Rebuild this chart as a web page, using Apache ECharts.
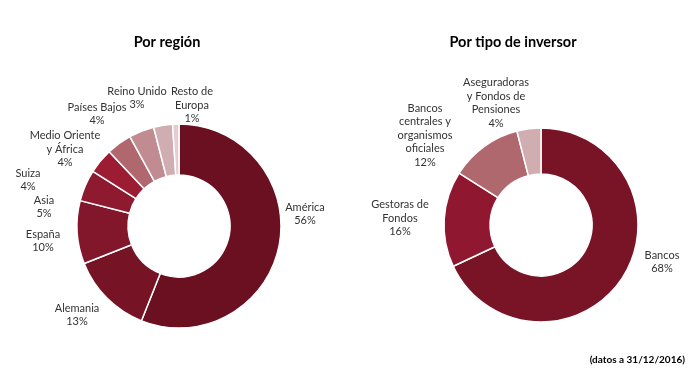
<!DOCTYPE html>
<html>
<head>
<meta charset="utf-8">
<script src="https://cdn.jsdelivr.net/npm/echarts@6/dist/echarts.min.js"></script>
<style>
html,body{margin:0;padding:0;background:#fff;}
#c{width:700px;height:373px;}
</style>
</head>
<body>
<div id="c"></div>
<script>
const regionNames = ['América', 'Alemania', 'España', 'Asia', 'Suiza', 'Medio Oriente\ny África', 'Países Bajos', 'Reino Unido', 'Resto de\nEuropa'];
const regionValues = [56, 13, 10, 5, 4, 4, 4, 3, 1];
const regionColors = ['#6a1020', '#761425', '#82172b', '#8d1a2f', '#9c1c34', '#b0676e', '#c08c91', '#cfadb1', '#e3cdd0'];

const investorNames = ['Bancos', 'Gestoras de\nFondos', 'Bancos\ncentrales y\norganismos\noficiales', 'Aseguradoras\ny Fondos de\nPensiones'];
const investorValues = [68, 16, 12, 4];
const investorColors = ['#781426', '#8f1830', '#b0686f', '#cfadb1'];

const titles = ['Por región', 'Por tipo de inversor'];
const footnote = '(datos a 31/12/2016)';

// label anchor points (centre of each text block), as placed in the reference
const regionLabelAt = [[305, 214], [77, 315], [43, 241], [44, 207], [28, 180], [65, 149], [97, 114], [137, 98], [192, 105]];
const investorLabelAt = [[662, 262], [400, 218], [425, 135], [496, 103]];

const font = 'Lato, "Open Sans", sans-serif';

function build(names, values, colors) {
  return names.map((n, i) => ({ name: n, value: values[i], itemStyle: { color: colors[i] } }));
}

const labelAt = [regionLabelAt, investorLabelAt];

const chart = echarts.init(document.getElementById('c'), null, { renderer: 'canvas' });
const labelStyle = { show: true, position: 'outside', formatter: '{b}\n{c}%', fontFamily: font, fontSize: 11, color: '#333', lineHeight: 13.5, overflow: 'none' };
chart.setOption({
  animation: false,
  backgroundColor: '#fff',
  title: [
    { text: titles[0], left: 162, top: 30, textAlign: 'center', textStyle: { fontFamily: font, fontSize: 14.5, fontWeight: 'bold', color: '#000' } },
    { text: titles[1], left: 508, top: 30, textAlign: 'center', textStyle: { fontFamily: font, fontSize: 14.5, fontWeight: 'bold', color: '#000' } },
    { text: footnote, right: 10, top: 350, textStyle: { fontFamily: font, fontSize: 10, fontWeight: 'bold', color: '#000' } }
  ],
  series: [
    {
      type: 'pie',
      center: [179, 226],
      radius: [51, 102],
      startAngle: 90,
      clockwise: true,
      data: build(regionNames, regionValues, regionColors),
      itemStyle: { borderColor: '#fff', borderWidth: 1.5 },
      label: labelStyle,
      labelLine: { show: false },
      labelLayout: function (p) {
        const pt = labelAt[p.seriesIndex][p.dataIndex];
        return { x: pt[0], y: pt[1], align: 'center', verticalAlign: 'middle' };
      },
      emphasis: { disabled: true }
    },
    {
      type: 'pie',
      center: [541, 225],
      radius: [51, 97],
      startAngle: 90,
      clockwise: true,
      data: build(investorNames, investorValues, investorColors),
      itemStyle: { borderColor: '#fff', borderWidth: 1.5 },
      label: labelStyle,
      labelLine: { show: false },
      labelLayout: function (p) {
        const pt = labelAt[p.seriesIndex][p.dataIndex];
        return { x: pt[0], y: pt[1], align: 'center', verticalAlign: 'middle' };
      },
      emphasis: { disabled: true }
    }
  ]
});
</script>
</body>
</html>
